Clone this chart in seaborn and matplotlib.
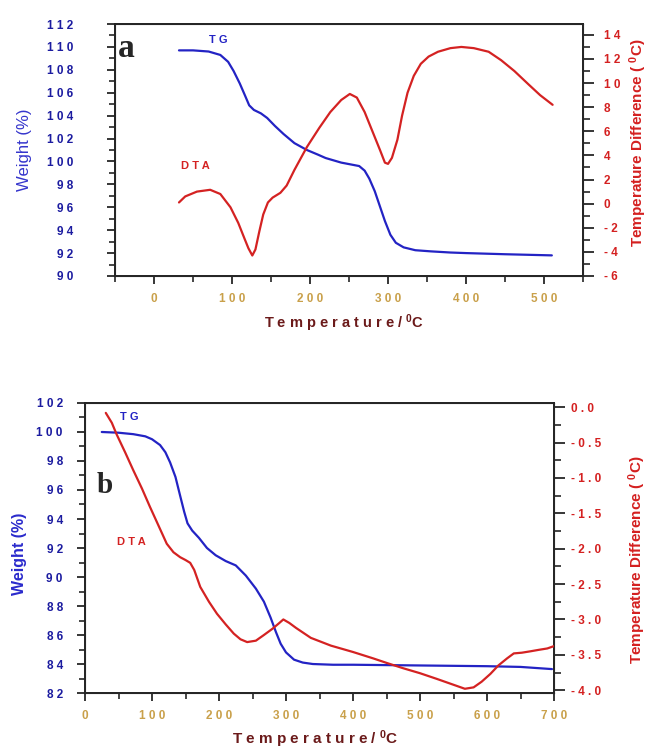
import matplotlib
matplotlib.use("Agg")
import matplotlib.pyplot as plt
from matplotlib.ticker import FuncFormatter, MultipleLocator
import seaborn as sns

# ---- panel a data ----
a_tg_temp = [32, 50, 70, 85, 95, 102, 110, 117, 122, 128, 137, 145, 155, 166, 180, 196,
             210, 220, 240, 263, 270, 276, 283, 290, 296, 303, 310, 320, 335, 355, 380,
             400, 450, 510]
a_tg_weight = [109.7, 109.7, 109.6, 109.3, 108.7, 107.9, 106.8, 105.7, 104.9, 104.5, 104.2,
               103.8, 103.1, 102.4, 101.6, 101.0, 100.6, 100.3, 99.9, 99.6, 99.2, 98.5,
               97.4, 96.0, 94.8, 93.6, 92.9, 92.5, 92.25, 92.15, 92.05, 92.0, 91.9, 91.8]

a_dta_temp = [32, 40, 55, 72, 85, 98, 108, 116, 121, 126, 130, 135, 140, 146, 152, 162,
              170, 180, 196, 212, 226, 240, 251, 260, 270, 280, 290, 296, 300, 305, 312,
              318, 325, 333, 342, 352, 364, 380, 394, 410, 429, 445, 462, 480, 495, 511]
a_dta_diff = [0.1, 0.6, 1.0, 1.15, 0.8, -0.3, -1.6, -2.9, -3.7, -4.3, -3.8, -2.3, -0.9,
              0.1, 0.5, 0.9, 1.5, 2.8, 4.7, 6.3, 7.6, 8.6, 9.1, 8.8, 7.6, 6.0, 4.4, 3.4,
              3.3, 3.8, 5.3, 7.3, 9.2, 10.6, 11.6, 12.2, 12.6, 12.9, 13.0, 12.9, 12.6,
              11.9, 11.0, 9.9, 9.0, 8.2]

# ---- panel b data ----
b_tg_temp = [25, 50, 72, 90, 100, 112, 120, 127, 135, 142, 148, 153, 160, 170, 182, 195,
             210, 225, 240, 255, 267, 277, 285, 292, 300, 312, 325, 340, 370, 400, 500,
             600, 650, 697]
b_tg_weight = [100.0, 99.95, 99.85, 99.7, 99.5, 99.1, 98.6, 97.9, 96.9, 95.6, 94.5, 93.7,
               93.2, 92.7, 92.0, 91.5, 91.1, 90.8, 90.1, 89.2, 88.3, 87.2, 86.2, 85.4,
               84.8, 84.3, 84.1, 84.0, 83.95, 83.95, 83.9, 83.85, 83.8, 83.65]

b_dta_temp = [31, 40, 47, 60, 72, 85, 97, 110, 122, 132, 142, 150, 157, 163, 172, 185,
              197, 210, 222, 232, 242, 255, 267, 280, 290, 296, 305, 315, 337, 367, 400,
              430, 452, 475, 500, 525, 552, 567, 580, 592, 605, 617, 630, 640, 652, 665,
              677, 690, 702]
b_dta_diff = [-0.08, -0.22, -0.38, -0.64, -0.89, -1.15, -1.41, -1.68, -1.93, -2.05, -2.12,
              -2.16, -2.2, -2.3, -2.54, -2.75, -2.92, -3.07, -3.2, -3.28, -3.32, -3.3,
              -3.22, -3.13, -3.05, -3.0, -3.05, -3.12, -3.26, -3.37, -3.46, -3.55, -3.62,
              -3.69, -3.76, -3.84, -3.93, -3.98, -3.96, -3.88, -3.77, -3.65, -3.55, -3.48,
              -3.47, -3.45, -3.43, -3.41, -3.37]

TG_COLOR = "#2323c4"
DTA_COLOR = "#d42222"
LEFT_TICK_COLOR = "#1c1ca0"
X_TICK_COLOR = "#c9a04a"
XLABEL_COLOR = "#6b1a1a"
RIGHT_COLOR = "#d42020"

XLABEL = "T e m p e r a t u r e / $^{0}$C"
YLABEL_RIGHT = "Temperature Difference ( $^{0}$C)"


def spaced(fmt):
    # mimic the letter-spaced tick labels of the original
    return FuncFormatter(lambda v, pos: " ".join(fmt.format(v)))


def style_axes(ax, ax2, left_pad, right_pad):
    for sp in ax.spines.values():
        sp.set_linewidth(1.4)
        sp.set_color("#222222")
    ax.tick_params(axis="both", which="major", direction="out", length=6, width=1.3)
    ax.tick_params(axis="both", which="minor", direction="out", length=4, width=1.2)
    ax.tick_params(axis="y", pad=left_pad, labelcolor=LEFT_TICK_COLOR, labelsize=8.5)
    ax.tick_params(axis="x", pad=6, labelcolor=X_TICK_COLOR, labelsize=8.5)
    ax2.tick_params(axis="y", which="major", direction="out", length=8, width=1.3,
                    pad=right_pad, labelcolor=RIGHT_COLOR, labelsize=8.5)
    ax2.tick_params(axis="y", which="minor", direction="out", length=5, width=1.2)
    for lab in ax.get_yticklabels() + ax.get_xticklabels() + ax2.get_yticklabels():
        lab.set_fontweight("bold")


def draw_panel_a(ax):
    ax2 = ax.twinx()
    sns.lineplot(x=a_tg_temp, y=a_tg_weight, ax=ax, color=TG_COLOR, linewidth=1.6)
    sns.lineplot(x=a_dta_temp, y=a_dta_diff, ax=ax2, color=DTA_COLOR, linewidth=1.6)

    ax.set_xlim(-50, 550)
    ax.set_ylim(90, 112)
    ax2.set_ylim(-6, 14.9)
    ax.xaxis.set_major_locator(MultipleLocator(100))
    ax.xaxis.set_minor_locator(MultipleLocator(50))
    ax.yaxis.set_major_locator(MultipleLocator(2))
    ax.yaxis.set_minor_locator(MultipleLocator(1))
    ax2.yaxis.set_major_locator(MultipleLocator(2))
    ax2.yaxis.set_minor_locator(MultipleLocator(1))
    ax.xaxis.set_major_formatter(spaced("{:.0f}"))
    ax.yaxis.set_major_formatter(spaced("{:.0f}"))
    ax2.yaxis.set_major_formatter(spaced("{:.0f}"))
    style_axes(ax, ax2, left_pad=24, right_pad=7)

    ax.set_xlabel(XLABEL, color=XLABEL_COLOR, fontsize=10.5, fontweight="bold")
    ax.xaxis.set_label_coords(0.49, -0.145)
    ax.set_ylabel("Weight (%)", color="#3535cc", fontsize=12)
    ax.yaxis.set_label_coords(-0.177, 0.5)
    ax2.set_ylabel(YLABEL_RIGHT, color=RIGHT_COLOR, fontsize=11, fontweight="bold")
    ax2.yaxis.set_label_coords(1.095, 0.53)

    ax.text(-46, 109.9, "a", family="Liberation Serif", fontweight="bold",
            fontsize=24, va="center", ha="left")
    ax.text(70, 110.6, "T G", color=TG_COLOR, fontsize=8, fontweight="bold", va="center")
    ax.text(35, 99.6, "D T A", color=DTA_COLOR, fontsize=8, fontweight="bold", va="center")


def draw_panel_b(ax):
    ax2 = ax.twinx()
    sns.lineplot(x=b_tg_temp, y=b_tg_weight, ax=ax, color=TG_COLOR, linewidth=1.6)
    sns.lineplot(x=b_dta_temp, y=b_dta_diff, ax=ax2, color=DTA_COLOR, linewidth=1.6)

    ax.set_xlim(0, 700)
    ax.set_ylim(82, 102)
    ax2.set_ylim(-4.04, 0.06)
    ax.xaxis.set_major_locator(MultipleLocator(100))
    ax.xaxis.set_minor_locator(MultipleLocator(50))
    ax.yaxis.set_major_locator(MultipleLocator(2))
    ax.yaxis.set_minor_locator(MultipleLocator(1))
    ax2.yaxis.set_major_locator(MultipleLocator(0.5))
    ax2.yaxis.set_minor_locator(MultipleLocator(0.25))
    ax.xaxis.set_major_formatter(spaced("{:.0f}"))
    ax.yaxis.set_major_formatter(spaced("{:.0f}"))
    ax2.yaxis.set_major_formatter(spaced("{:.1f}"))
    style_axes(ax, ax2, left_pad=10, right_pad=4)

    ax.set_xlabel(XLABEL, color=XLABEL_COLOR, fontsize=11, fontweight="bold")
    ax.xaxis.set_label_coords(0.49, -0.122)
    ax.set_ylabel("Weight (%)", color="#2a2acc", fontsize=11.5, fontweight="bold")
    ax.yaxis.set_label_coords(-0.124, 0.48)
    ax2.set_ylabel(YLABEL_RIGHT, color=RIGHT_COLOR, fontsize=11, fontweight="bold")
    ax2.yaxis.set_label_coords(1.155, 0.46)

    ax.text(18, 96.3, "b", family="Liberation Serif", fontweight="bold",
            fontsize=21, va="center", ha="left")
    ax.text(52, 101.0, "T G", color=TG_COLOR, fontsize=8, fontweight="bold", va="center")
    ax.text(48, 92.4, "D T A", color=DTA_COLOR, fontsize=8, fontweight="bold", va="center")


def main():
    sns.set_style("ticks")
    plt.rcParams["font.family"] = ["Liberation Sans", "DejaVu Sans"]
    plt.rcParams["mathtext.fontset"] = "custom"
    plt.rcParams["mathtext.rm"] = "Liberation Sans:bold"
    plt.rcParams["mathtext.it"] = "Liberation Sans:bold"

    fig = plt.figure(figsize=(6.51, 7.51), dpi=100)
    ax_a = fig.add_axes([0.1767, 0.6325, 0.7189, 0.3355])
    ax_b = fig.add_axes([0.1306, 0.0772, 0.7204, 0.3862])
    draw_panel_a(ax_a)
    draw_panel_b(ax_b)

    fig.savefig("out.png", dpi=100)
    plt.close(fig)


if __name__ == "__main__":
    main()
